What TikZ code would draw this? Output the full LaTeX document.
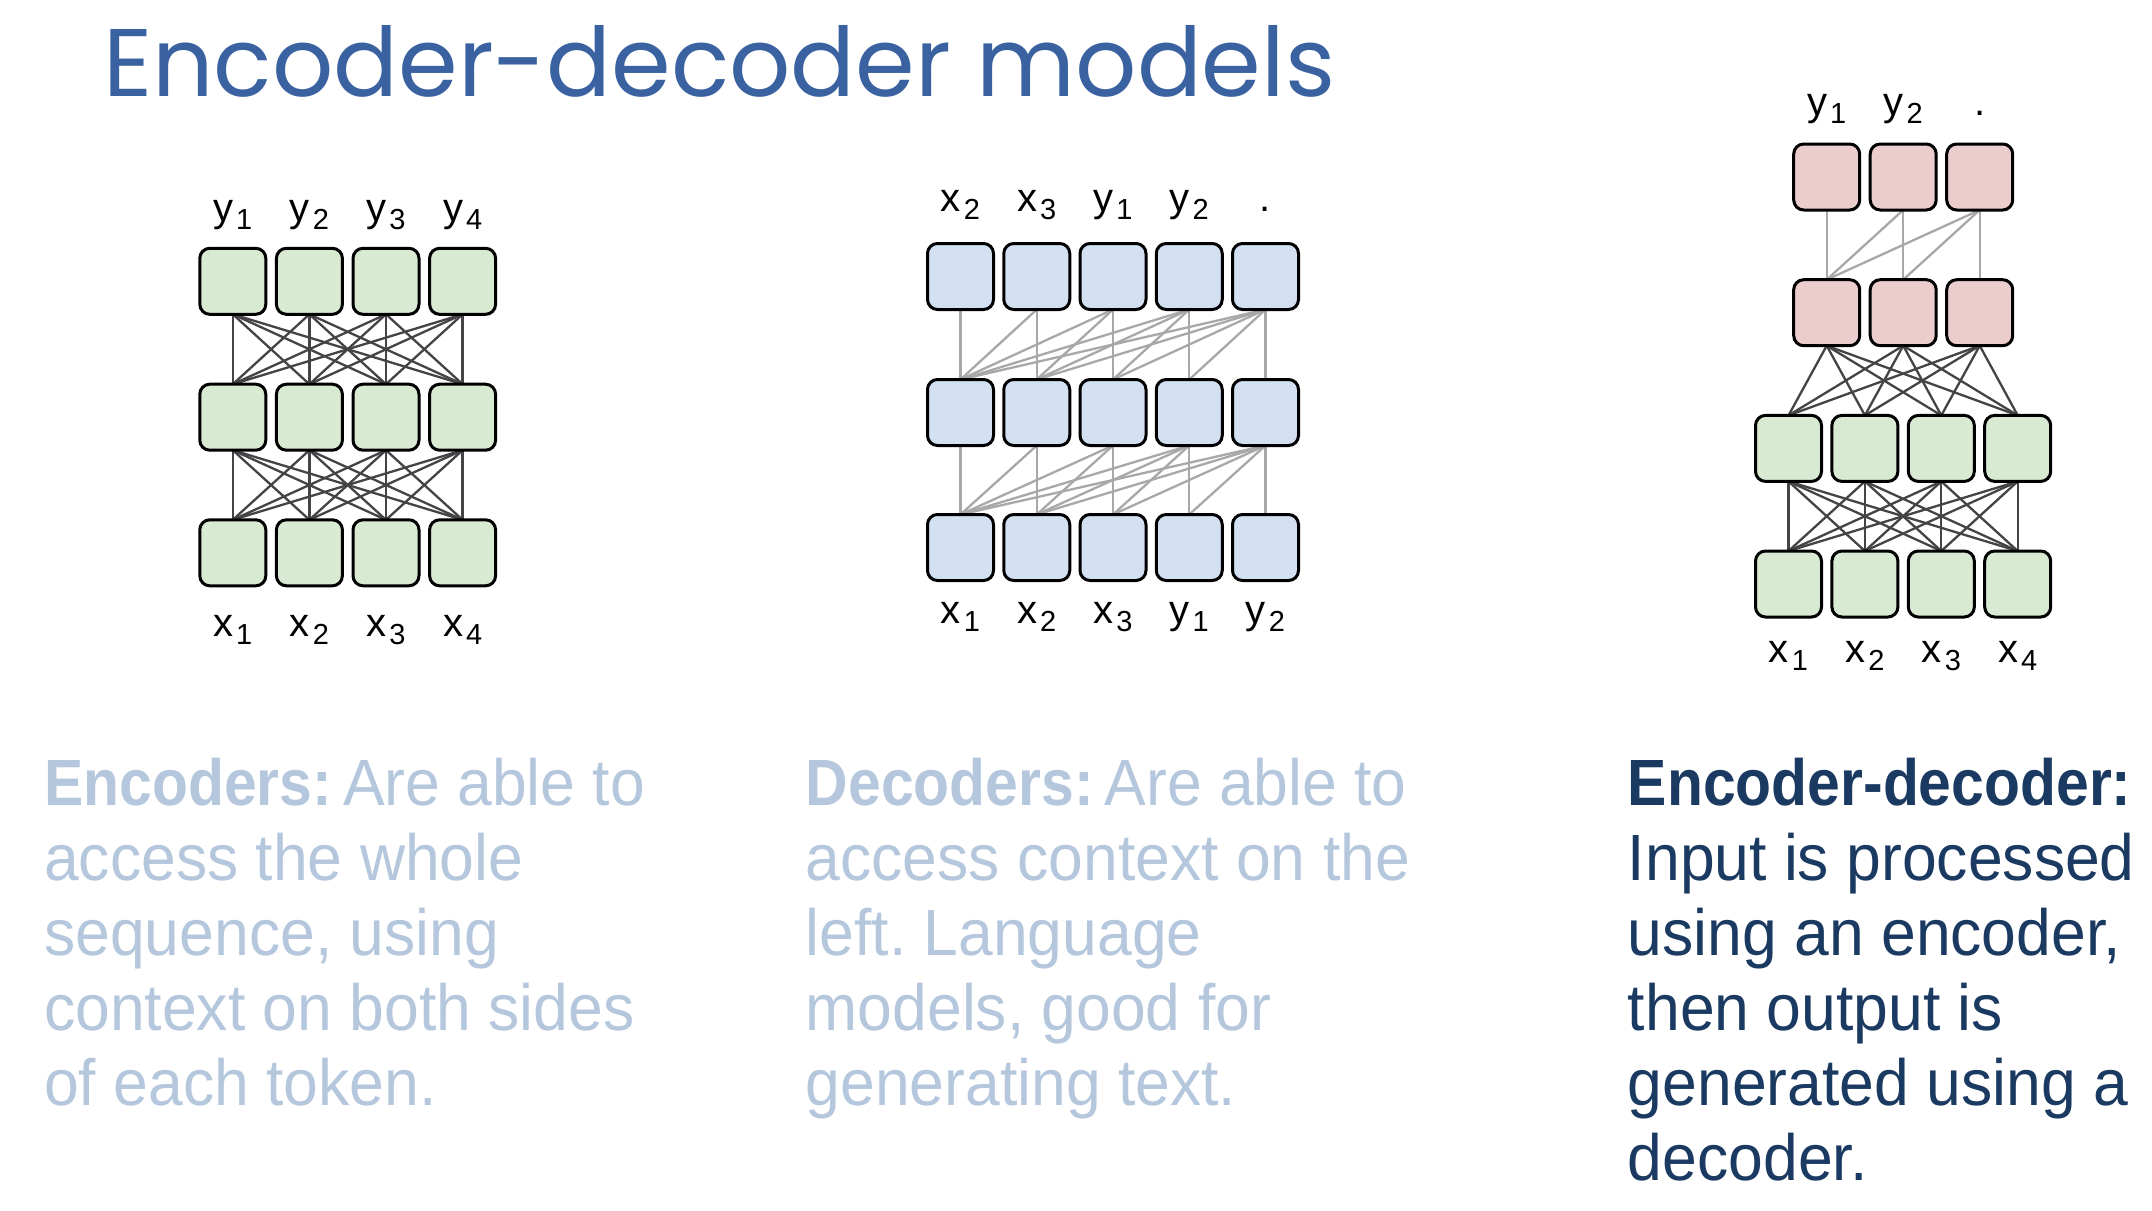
\documentclass[tikz,border=0pt]{standalone}
\usepackage{fontspec}
\setmainfont{Liberation Sans}[UprightFeatures={FakeStretch=0.955},BoldFeatures={FakeStretch=0.90}]
\newfontfamily\titlefont{Poppins}
\newfontfamily\labfont{Liberation Sans}
\usetikzlibrary{backgrounds}
\frenchspacing
\definecolor{titleblue}{HTML}{3A62A1}
\definecolor{lighttext}{HTML}{B5C7DD}
\definecolor{darktext}{HTML}{1B3A62}
\definecolor{boxgreen}{HTML}{D9EAD3}
\definecolor{boxblue}{HTML}{D2E0F2}
\definecolor{boxpink}{HTML}{EBCDCD}
\definecolor{linedark}{HTML}{444444}
\definecolor{linelight}{HTML}{A8A8A8}
\newcommand{\tk}[2]{#1\kern3pt\raisebox{-8pt}{\fontsize{29}{29}\selectfont #2}}
\begin{document}
\begin{tikzpicture}[x=1pt,y=-1pt,
  box/.style={draw=black, line width=3pt, rounded corners=10pt, minimum width=66pt, minimum height=66pt, inner sep=0pt, outer sep=0pt},
  gbox/.style={box, fill=boxgreen},
  bbox/.style={box, fill=boxblue},
  pbox/.style={box, fill=boxpink},
  dline/.style={draw=linedark, line width=2.3pt},
  lline/.style={draw=linelight, line width=2.3pt},
  tok/.style={font=\labfont\fontsize{40}{40}\selectfont, inner sep=0pt, anchor=base, text=black},
  body/.style={anchor=base west, inner sep=0pt, font=\fontsize{65.4}{75}\selectfont\frenchspacing},
]
\begin{scope}[on background layer]
\fill[white] (0,0) rectangle (2152,1210);
\end{scope}
\useasboundingbox (0,0) rectangle (2152,1210);

% Title
\node[anchor=base west, inner sep=0pt, text=titleblue, font=\titlefont\fontsize{96}{96}\selectfont] (title) at (103,96) {Encoder-decoder models};

% ---------- Encoder ----------
\foreach \r/\y in {1/281.3,2/417.2,3/552.8}
  \foreach \c in {1,...,4}
    \node[gbox] (e\r\c) at ({232.8+(\c-1)*76.6},\y) {};
\begin{scope}[on background layer]
\foreach \a/\b in {1/2,2/3}
  \foreach \i in {1,...,4}
    \foreach \j in {1,...,4}
      \draw[dline] (e\a\i.south) -- (e\b\j.north);
\end{scope}
\foreach \c/\t in {1/{\tk{y}{1}},2/{\tk{y}{2}},3/{\tk{y}{3}},4/{\tk{y}{4}}}
  \node[tok] (et\c) at ([yshift=27pt]e1\c.north) {\t};
\foreach \c/\t in {1/{\tk{x}{1}},2/{\tk{x}{2}},3/{\tk{x}{3}},4/{\tk{x}{4}}}
  \node[tok] (eb\c) at ([yshift=-51pt]e3\c.south) {\t};

% ---------- Decoder ----------
\foreach \r/\y in {1/276.5,2/412.5,3/547.5}
  \foreach \c in {1,...,5}
    \node[bbox] (d\r\c) at ({960.5+(\c-1)*76.25},\y) {};
\begin{scope}[on background layer]
\foreach \a/\b in {1/2,2/3}
  \foreach \i in {1,...,5}
    \foreach \j in {1,...,\i}
      \draw[lline] (d\a\i.south) -- (d\b\j.north);
\end{scope}
\foreach \c/\t in {1/{\tk{x}{2}},2/{\tk{x}{3}},3/{\tk{y}{1}},4/{\tk{y}{2}},5/{.}}
  \node[tok] (dt\c) at ([yshift=32pt]d1\c.north) {\t};
\foreach \c/\t in {1/{\tk{x}{1}},2/{\tk{x}{2}},3/{\tk{x}{3}},4/{\tk{y}{1}},5/{\tk{y}{2}}}
  \node[tok] (db\c) at ([yshift=-43pt]d3\c.south) {\t};

% ---------- Encoder-decoder ----------
\foreach \r/\y in {1/177,2/312.7}
  \foreach \c in {1,...,3}
    \node[pbox] (p\r\c) at ({1826.7+(\c-1)*76.5},\y) {};
\foreach \r/\y in {1/448.4,2/584}
  \foreach \c in {1,...,4}
    \node[gbox] (g\r\c) at ({1788.5+(\c-1)*76.4},\y) {};
\begin{scope}[on background layer]
\foreach \i in {1,...,3}
  \foreach \j in {1,...,\i}
    \draw[lline] (p1\i.south) -- (p2\j.north);
\foreach \i in {1,...,3}
  \foreach \j in {1,...,4}
    \draw[dline] (p2\i.south) -- (g1\j.north);
\foreach \i in {1,...,4}
  \foreach \j in {1,...,4}
    \draw[dline] (g1\i.south) -- (g2\j.north);
\end{scope}
\foreach \c/\t in {1/{\tk{y}{1}},2/{\tk{y}{2}},3/{.}}
  \node[tok] (pt\c) at ([yshift=28.5pt]p1\c.north) {\t};
\foreach \c/\t in {1/{\tk{x}{1}},2/{\tk{x}{2}},3/{\tk{x}{3}},4/{\tk{x}{4}}}
  \node[tok] (gb\c) at ([yshift=-45.5pt]g2\c.south) {\t};

% ---------- Texts ----------
\foreach \t [count=\k from 0] in {{\textbf{Encoders:}\hspace{11pt}Are able to},{access the whole},{sequence, using},{context on both sides},{of each token.}}
  \node[body, text=lighttext] (enc\k) at (44,{805.6+75*\k}) {\t};
\foreach \t [count=\k from 0] in {{\textbf{Decoders:}\hspace{11pt}Are able to},{access context on the},{left. Language},{models, good for},{generating text.}}
  \node[body, text=lighttext] (dec\k) at (805.6,{805.6+75*\k}) {\t};
\foreach \t [count=\k from 0] in {{\textbf{Encoder-decoder:}},{Input is processed},{using an encoder,},{then output is},{generated using a},{decoder.}}
  \node[body, text=darktext] (ed\k) at (1627.7,{805.6+75*\k}) {\t};
\end{tikzpicture}
\end{document}
